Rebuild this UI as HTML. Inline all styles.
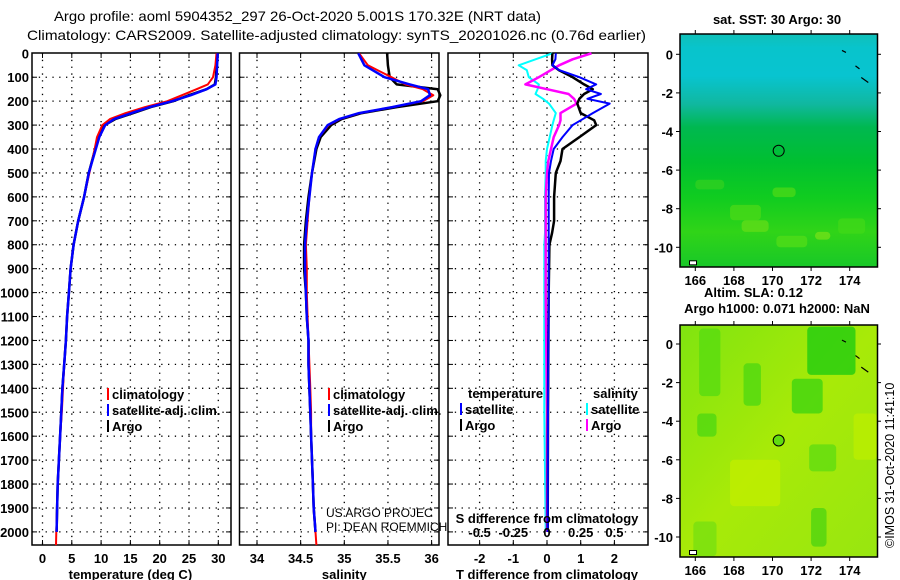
<!DOCTYPE html>
<html><head><meta charset="utf-8"><style>
html,body{margin:0;padding:0;background:#fff;}
svg{display:block;font-family:"Liberation Sans",sans-serif;}
.b{font-weight:bold;font-size:13px;}
</style></head><body>
<svg id="s" width="900" height="580" viewBox="0 0 900 580">
<defs>
<linearGradient id="sstg" x1="0" y1="0" x2="0" y2="1">
<stop offset="0" stop-color="#10c0b8"/><stop offset="0.06" stop-color="#08c4cc"/>
<stop offset="0.18" stop-color="#08c4d0"/><stop offset="0.3" stop-color="#10b8a0"/>
<stop offset="0.4" stop-color="#00b850"/><stop offset="0.55" stop-color="#00c030"/>
<stop offset="0.7" stop-color="#10cc20"/><stop offset="0.85" stop-color="#30d418"/><stop offset="1" stop-color="#18c828"/>
</linearGradient>
<linearGradient id="slag" x1="0" y1="0" x2="1" y2="1">
<stop offset="0" stop-color="#80e410"/><stop offset="0.5" stop-color="#a8ea08"/><stop offset="1" stop-color="#98e610"/>
</linearGradient>
</defs>
<g id="titles">
<text x="54" y="21" style="font-size:14px;font-weight:normal" textLength="487" lengthAdjust="spacingAndGlyphs">Argo profile: aoml 5904352_297 26-Oct-2020 5.001S 170.32E (NRT data)</text>
<text x="27" y="40" style="font-size:14px" textLength="619" lengthAdjust="spacingAndGlyphs">Climatology: CARS2009. Satellite-adjusted climatology: synTS_20201026.nc (0.76d earlier)</text>
</g>
<g id="panels"></g>
<g id="maps"></g>
</svg>
<script>
// ---------- data ----------
const depthTicks=[0,100,200,300,400,500,600,700,800,900,1000,1100,1200,1300,1400,1500,1600,1700,1800,1900,2000];
const tTicks=[0,5,10,15,20,25,30];
const sTicks=[34,34.5,35,35.5,36];
const sTickLabels=["34","34.5","35","35.5","36"];
const dTTicks=[-2,-1,0,1,2];
const dSTicks=[-0.5,-0.25,0,0.25,0.5];
const dSTickLabels=["-0.5","-0.25","0","0.25","0.5"];

const argoDepth=[0,50,100,130,150,175,200,225,250,275,300,350,400,500,600,700,800,900,1000,1100,1200,1300,1400,1500,1600,1700,1800,1900,2000];
const argoTemp=[29.8,29.7,29.6,29.4,28,25,22.3,18.5,15.5,12.4,10.6,9.6,9.0,7.9,7.1,6.1,5.3,4.8,4.5,4.2,4.0,3.7,3.4,3.2,3.0,2.8,2.6,2.5,2.4];
const climDepth=[0,50,100,130,150,175,200,225,250,275,300,350,400,500,600,700,800,900,1000,1100,1200,1300,1400,1500,1600,1700,1800,1900,2000,2055];
const climTemp=[29.7,29.5,29.1,28.2,26.3,23.8,21.3,17.5,14.2,11.5,10.2,9.3,8.9,8.0,7.1,6.1,5.3,4.8,4.5,4.2,4.0,3.7,3.5,3.3,3.0,2.8,2.6,2.5,2.35,2.3];
const satTemp=[29.9,29.8,29.7,29.5,28,25.3,22.1,18.3,15.2,12.2,10.7,9.7,9.1,7.9,7.1,6.1,5.3,4.8,4.5,4.2,4.0,3.7,3.4,3.2,3.0,2.8,2.6,2.5,2.4,2.4];
const argoSal=[35.49,35.50,35.52,35.6,36.07,36.1,36.07,35.6,35.2,34.97,34.85,34.73,34.68,34.63,34.59,34.56,34.54,34.54,34.56,34.57,34.59,34.59,34.6,34.61,34.62,34.63,34.64,34.65,34.67];
const climSal=[35.17,35.27,35.54,35.7,35.9,36.02,35.9,35.55,35.18,34.95,34.82,34.71,34.67,34.63,34.6,34.58,34.56,34.57,34.57,34.58,34.59,34.6,34.61,34.62,34.62,34.63,34.64,34.65,34.67,34.68];
const satSal=[35.16,35.23,35.46,35.75,35.96,35.98,35.88,35.55,35.17,34.94,34.81,34.71,34.67,34.63,34.6,34.57,34.55,34.55,34.56,34.57,34.59,34.59,34.6,34.61,34.62,34.63,34.64,34.65,34.67,34.67];

const diffDepth=[0,25,50,70,100,130,150,170,190,210,250,280,300,350,400,450,500,600,700,750,800,1000,1500,2000];
const dTsat=[0.26,0.25,0.16,0.36,0.96,1.46,1.16,1.6,1.2,1.86,1.36,1.0,0.76,0.46,0.2,0.12,0.06,0.05,0.05,0.05,0.05,0.05,0.03,0.02];
const dTargo=[0.16,0.15,0.16,0.35,0.76,1.1,1.36,1.1,0.96,0.9,1.0,1.4,1.46,0.96,0.46,0.4,0.26,0.21,0.21,0.15,0.07,0.05,0.03,0.02];
const dSsat=[0.04,-0.085,-0.21,-0.15,-0.135,-0.06,-0.07,-0.085,-0.03,0.015,0.065,0.05,0.04,0.02,0.0,-0.01,-0.01,-0.015,-0.015,-0.015,-0.02,-0.02,-0.02,-0.01];
const dSargo=[0.33,0.19,0.09,0.03,-0.06,-0.16,0.0,0.16,0.2,0.22,0.1,0.1,0.09,0.05,0.03,0.01,0.0,-0.01,-0.01,-0.01,-0.01,-0.01,0.0,0.0];

// ---------- helpers ----------
const NS="http://www.w3.org/2000/svg";
function mk(tag,attrs,parent,txt){const e=document.createElementNS(NS,tag);for(const k in attrs)e.setAttribute(k,attrs[k]);if(txt!==undefined)e.textContent=txt;parent.appendChild(e);return e;}
const TOP=53,BOT=545;
const yD=d=>53.3+d*0.2393;
const xT=t=>42.5+t*5.86;
const xS=s=>257+(s-34)*87.3;
const xDT=v=>547+v*33.7;
const xDS=v=>547+v*4*33.7;
const P=document.getElementById('panels');

function frame(x0,x1,name,xticks,xf){
  const g=mk('g',{},P);
  
  
  depthTicks.forEach(d=>{if(d>0){mk('line',{x1:x0,x2:x1,y1:yD(d),y2:yD(d),stroke:'#000','stroke-width':1.3,'stroke-dasharray':'1.3 5.5'},g);
    mk('line',{x1:x0,x2:x0+5,y1:yD(d),y2:yD(d),stroke:'#000'},g);mk('line',{x1:x1-5,x2:x1,y1:yD(d),y2:yD(d),stroke:'#000'},g);}});
  xticks.forEach(v=>{const x=xf(v);mk('line',{x1:x,x2:x,y1:TOP,y2:BOT,stroke:'#000','stroke-width':1.3,'stroke-dasharray':'1.3 5.5'},g);
    mk('line',{x1:x,x2:x,y1:TOP,y2:TOP+5,stroke:'#000'},g);mk('line',{x1:x,x2:x,y1:BOT-5,y2:BOT,stroke:'#000'},g);});
  mk('rect',{x:x0,y:TOP,width:x1-x0,height:BOT-TOP,fill:'none',stroke:'#000','stroke-width':1.5},g);
  return g;
}
function line(g,xs,ds,xf,col,w,name){
  const pts=xs.map((v,i)=>xf(v).toFixed(1)+','+yD(ds[i]).toFixed(1)).join(' ');
  const p=mk('polyline',{points:pts,fill:'none',stroke:col,'stroke-width':w,'stroke-linejoin':'round'},g);
  
  
}
function legend(g,x,y,col,label,name){
  const e=mk('g',{},g);
  
  
  mk('line',{x1:x,x2:x,y1:y-11,y2:y+1,stroke:col,'stroke-width':2},e);
  mk('text',{x:x+4,y:y,class:'b','font-size':'12.5'},e,label);
}

const ya=mk('g',{},P);


depthTicks.forEach(d=>mk('text',{x:29,y:yD(d)+5,'text-anchor':'end',class:'b'},ya,String(d)));

// panel 1 temperature
const g1=frame(32,231,'temperature-panel',tTicks,xT);
line(g1,argoTemp,argoDepth,xT,'#000',2.5,'argo-temperature-line');
line(g1,climTemp,climDepth,xT,'#f00',2,'climatology-temperature-line');
line(g1,satTemp.slice(0,29),climDepth.slice(0,29),xT,'#00f',2.5,'satellite-temperature-line');
tTicks.forEach(t=>mk('text',{x:xT(t),y:563,'text-anchor':'middle',class:'b'},g1,String(t)));
mk('text',{x:xT(15),y:579,'text-anchor':'middle',class:'b'},g1,'temperature (deg C)');
legend(g1,108,399,'#f00','climatology','legend-climatology');
legend(g1,108,415,'#00f','satellite-adj. clim.','legend-satellite');
legend(g1,108,431,'#000','Argo','legend-argo');

// panel 2 salinity
const g2=frame(239.5,439,'salinity-panel',sTicks,xS);
line(g2,argoSal,argoDepth,xS,'#000',2.5,'argo-salinity-line');
line(g2,climSal,climDepth,xS,'#f00',2,'climatology-salinity-line');
line(g2,satSal.slice(0,29),climDepth.slice(0,29),xS,'#00f',2.5,'satellite-salinity-line');
sTicks.forEach((s,i)=>mk('text',{x:xS(s),y:563,'text-anchor':'middle',class:'b'},g2,sTickLabels[i]));
mk('text',{x:xS(35),y:579,'text-anchor':'middle',class:'b'},g2,'salinity');
legend(g2,329,399,'#f00','climatology','legend-climatology-sal');
legend(g2,329,415,'#00f','satellite-adj. clim.','legend-satellite-sal');
legend(g2,329,431,'#000','Argo','legend-argo-sal');
mk('text',{x:326,y:517,'font-size':'12'},g2,'US ARGO PROJEC');
mk('text',{x:326,y:531,'font-size':'12'},g2,'PI: DEAN ROEMMICH');

// panel 3 differences
const g3=frame(448,648,'difference-panel',dTTicks,xDT);
line(g3,dSsat,diffDepth,xDS,'#0ff',2,'satellite-salinity-diff-line');
line(g3,dSargo,diffDepth,xDS,'#f0f',2.5,'argo-salinity-diff-line');
line(g3,dTargo,diffDepth,xDT,'#000',2.5,'argo-temperature-diff-line');
line(g3,dTsat,diffDepth,xDT,'#00f',2,'satellite-temperature-diff-line');
dTTicks.forEach(v=>mk('text',{x:xDT(v),y:563,'text-anchor':'middle',class:'b'},g3,String(v)));
dSTicks.forEach((v,i)=>mk('text',{x:xDS(v),y:537,'text-anchor':'middle',class:'b'},g3,dSTickLabels[i]));
mk('text',{x:547,y:523,'text-anchor':'middle',class:'b'},g3,'S difference from climatology');
mk('text',{x:547,y:579,'text-anchor':'middle',class:'b'},g3,'T difference from climatology');
mk('text',{x:468,y:398,class:'b','font-size':'12.5'},g3,'temperature');
mk('text',{x:593,y:398,class:'b','font-size':'12.5'},g3,'salinity');
legend(g3,461,414,'#00f','satellite','legend-t-satellite');
legend(g3,461,430,'#000','Argo','legend-t-argo');
legend(g3,587,414,'#0ff','satellite','legend-s-satellite');
legend(g3,587,430,'#f0f','Argo','legend-s-argo');

// ---------- maps ----------
const lonTicks=[166,168,170,172,174];
const latTicks=[0,-2,-4,-6,-8,-10];
const argoLon=170.32, argoLat=-5.0;
const M=document.getElementById('maps');
const xL=l=>695.3+(l-166)*19.3;
function map(top,bot,lat0y,name,fill,patches,extra){
  const yL=la=>lat0y-la*19.3;
  const g=mk('g',{},M);
  
  
  mk('rect',{x:680,y:top,width:197.5,height:bot-top,fill:fill},g);
  patches.forEach(p=>mk('rect',{x:xL(p[0]),y:yL(p[1]),width:p[2]*19.3,height:p[3]*19.3,fill:p[4],rx:4,opacity:0.8},g));
  mk('rect',{x:680,y:top,width:197.5,height:bot-top,fill:'none',stroke:'#000','stroke-width':1.5},g);
  lonTicks.forEach(l=>{mk('line',{x1:xL(l),x2:xL(l),y1:top-4,y2:top,stroke:'#000'},g);mk('line',{x1:xL(l),x2:xL(l),y1:bot,y2:bot+4,stroke:'#000'},g);
    mk('text',{x:xL(l),y:bot+18,'text-anchor':'middle',class:'b'},g,String(l));});
  latTicks.forEach(la=>{mk('line',{x1:676,x2:680,y1:yL(la),y2:yL(la),stroke:'#000'},g);mk('line',{x1:877,x2:881,y1:yL(la),y2:yL(la),stroke:'#000'},g);
    mk('text',{x:673,y:yL(la)+5,'text-anchor':'end',class:'b'},g,String(la));});
  const c=mk('circle',{cx:xL(argoLon),cy:yL(argoLat),r:5.5,fill:extra,stroke:'#000','stroke-width':1},g);
  
  
  mk('path',{d:`M${xL(173.6)} ${yL(0.2)} l4 2 M${xL(174.3)} ${yL(-0.6)} l4 3 M${xL(174.6)} ${yL(-1.2)} l7 5`,stroke:'#000','stroke-width':1.2,fill:'none'},g);
  mk('rect',{x:xL(165.7),y:yL(-10.7),width:7,height:4,fill:'#fff',stroke:'#000'},g);
  return g;
}
const sstPatches=[[166,-6.5,1.5,0.5,'#30d020'],[167.8,-7.8,1.6,0.8,'#48d818'],[170,-6.9,1.2,0.5,'#48d818'],[168.4,-8.6,1.4,0.6,'#60dc18'],[170.2,-9.4,1.6,0.6,'#50dc18'],[173.4,-8.5,1.4,0.8,'#40d818'],[172.2,-9.2,0.8,0.4,'#70e018']];
map(34,267,54.3,'sst-map','url(#sstg)',sstPatches,"none");
const slaPatches=[[166.2,0.8,1.1,3.5,'#58dc10'],[168.5,-1,0.9,2.2,'#50d810'],[171.8,0.9,2.5,2.5,'#20cc10'],[171,-1.8,1.6,1.8,'#40d410'],[166.1,-3.6,1,1.2,'#50d810'],[171.9,-5.2,1.4,1.4,'#60dc10'],[172,-8.5,0.8,2,'#50d410'],[167.8,-6,2.6,2.4,'#c0ee00'],[174.2,-3.6,1.2,2.4,'#bcee00'],[165.9,-9.2,1.2,1.8,'#78e010']];
map(325,557,344,'sla-map','url(#slag)',slaPatches,"#60dc10");
mk('text',{x:777,y:24,'text-anchor':'middle',class:'b','font-size':'12.5'},M,'sat. SST: 30 Argo: 30');
mk('text',{x:704,y:297,class:'b','font-size':'12.5'},M,'Altim. SLA: 0.12');
mk('text',{x:777,y:313,'text-anchor':'middle',class:'b','font-size':'12.5'},M,'Argo h1000: 0.071 h2000: NaN');
mk('text',{x:0,y:0,'font-size':'12.5',transform:'translate(894,548) rotate(-90)'},M,'©IMOS 31-Oct-2020 11:41:10');
</script>
</body></html>
